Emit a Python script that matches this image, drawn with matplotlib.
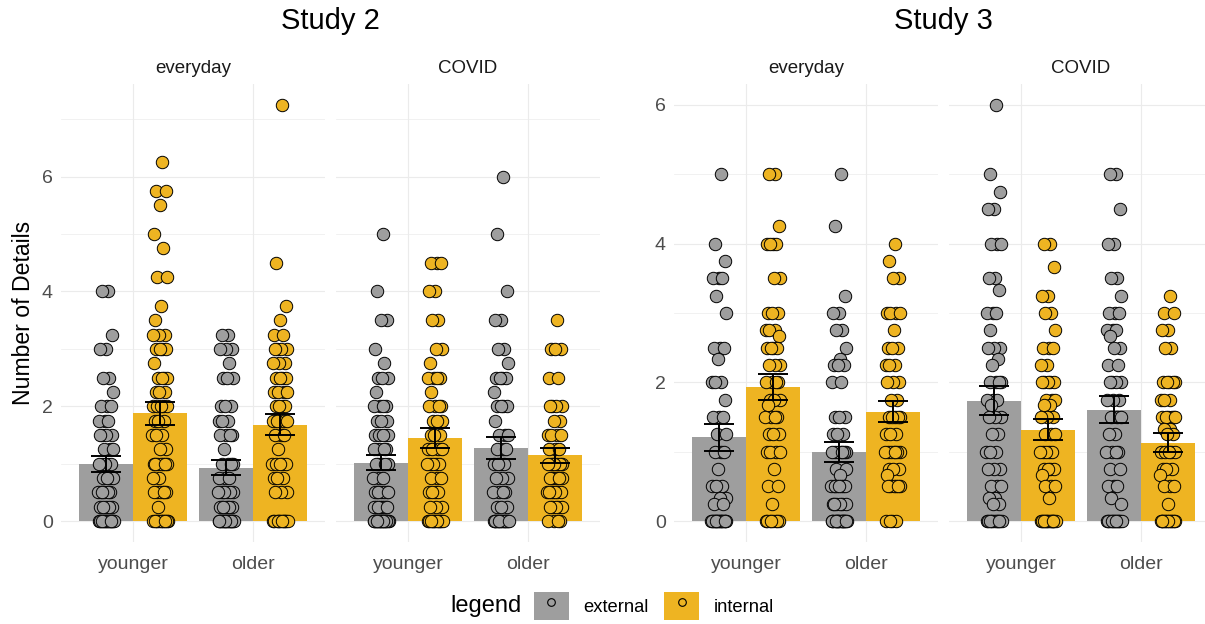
import numpy as np
import matplotlib
matplotlib.use('Agg')
import matplotlib.pyplot as plt
from matplotlib.patches import Patch
from matplotlib.lines import Line2D
from matplotlib.legend_handler import HandlerTuple

plt.rcParams['font.family'] = ['Liberation Sans', 'DejaVu Sans']


#Categories
ages = ['younger', 'older']
conditions = ['everyday', 'COVID']
sources = ['external', 'internal']

#Study 2: score -> number of participants
s2_everyday_younger_ext = {4: 2, 3.25: 1, 3: 2, 2.5: 2, 2.25: 1, 2: 3, 1.75: 3, 1.5: 4, 1.25: 3,
                           1: 5, 0.75: 4, 0.5: 6, 0.25: 5, 0: 17}
s2_everyday_younger_int = {6.25: 1, 5.75: 2, 5.5: 1, 5: 1, 4.75: 1, 4.25: 2, 3.75: 1, 3.5: 1, 3.25: 3,
                           3: 4, 2.75: 1, 2.5: 4, 2.25: 3, 2: 5, 1.75: 3, 1.5: 3, 1.25: 2, 1: 7,
                           0.75: 2, 0.5: 6, 0.25: 1, 0: 12}
s2_everyday_older_ext = {3.25: 2, 3: 3, 2.75: 1, 2.5: 3, 2: 3, 1.75: 3, 1.5: 4, 1.25: 1, 1: 4,
                         0.75: 3, 0.5: 7, 0.25: 7, 0: 19}
s2_everyday_older_int = {7.25: 1, 4.5: 1, 3.75: 1, 3.5: 1, 3.25: 2, 3: 4, 2.75: 3, 2.5: 4, 2.25: 4,
                         2: 4, 1.75: 4, 1.5: 3, 1.25: 1, 1: 5, 0.75: 3, 0.5: 3, 0: 12}
s2_covid_younger_ext = {5: 1, 4: 1, 3.5: 2, 3: 1, 2.75: 1, 2.5: 3, 2.25: 1, 2: 4, 1.75: 3, 1.5: 5,
                        1.25: 5, 1: 5, 0.75: 3, 0.5: 7, 0.25: 8, 0: 20}
s2_covid_younger_int = {4.5: 3, 4: 2, 3.5: 2, 3: 2, 2.75: 1, 2.5: 4, 2.25: 1, 2: 4, 1.75: 3, 1.5: 3,
                        1.25: 4, 1: 5, 0.75: 3, 0.5: 4, 0.25: 3, 0: 13}
s2_covid_older_ext = {6: 1, 5: 1, 4: 1, 3.5: 2, 3: 2, 2.75: 1, 2.5: 4, 2.25: 1, 2: 4, 1.75: 1,
                      1.5: 3, 1.25: 3, 1: 4, 0.75: 3, 0.5: 4, 0.25: 3, 0: 17}
s2_covid_older_int = {3.5: 1, 3: 3, 2.5: 2, 2: 4, 1.75: 2, 1.5: 4, 1.25: 3, 1: 7, 0.75: 6, 0.5: 7,
                      0.25: 5, 0: 4}

#Study 3
s3_everyday_younger_ext = {5: 1, 4: 1, 3.75: 1, 3.5: 3, 3.25: 1, 3: 1, 2.5: 3, 2.33: 1, 2: 3, 1.75: 1,
                           1.5: 3, 1.25: 2, 1: 3, 0.75: 1, 0.5: 3, 0.33: 2, 0.25: 2, 0: 18}
s3_everyday_younger_int = {5: 2, 4.25: 1, 4: 4, 3.5: 2, 3: 3, 2.75: 3, 2.67: 1, 2.5: 4, 2.25: 3, 2: 4,
                           1.75: 3, 1.67: 1, 1.5: 4, 1.25: 3, 1: 4, 0.75: 1, 0.5: 2, 0.25: 1, 0: 8}
s3_everyday_older_ext = {5: 1, 4.25: 1, 3.25: 1, 3: 2, 2.75: 2, 2.5: 1, 2.33: 1, 2.25: 3, 2: 2, 1.5: 3,
                         1.25: 3, 1: 7, 0.75: 2, 0.67: 1, 0.5: 8, 0.25: 6, 0: 19}
s3_everyday_older_int = {4: 1, 3.75: 1, 3.5: 2, 3: 4, 2.75: 1, 2.5: 3, 2.25: 3, 2: 3, 1.75: 2, 1.5: 5,
                         1.25: 3, 1: 7, 0.75: 3, 0.67: 1, 0.5: 6, 0: 4}
s3_covid_younger_ext = {6: 1, 5: 1, 4.75: 1, 4.5: 2, 4: 3, 3.5: 2, 3.33: 1, 3: 3, 2.75: 1, 2.5: 3,
                        2.33: 1, 2.25: 1, 2: 4, 1.75: 3, 1.67: 1, 1.5: 3, 1.25: 2, 1: 3, 0.75: 3,
                        0.5: 3, 0.33: 2, 0.25: 2, 0: 12}
s3_covid_younger_int = {4: 2, 3.67: 1, 3.25: 2, 3: 2, 2.75: 1, 2.5: 3, 2.25: 2, 2: 5, 1.75: 3, 1.67: 2,
                        1.5: 3, 1.25: 3, 1: 5, 0.75: 4, 0.67: 1, 0.5: 3, 0.33: 1, 0: 15}
s3_covid_older_ext = {5: 2, 4.5: 1, 4: 2, 3.5: 2, 3.25: 1, 3: 3, 2.75: 3, 2.67: 1, 2.5: 2, 2.25: 2,
                      2: 4, 1.75: 3, 1.5: 3, 1.25: 2, 1: 4, 0.75: 2, 0.5: 3, 0.33: 1, 0.25: 1, 0: 14}
s3_covid_older_int = {3.25: 1, 3: 2, 2.75: 2, 2.5: 2, 2: 5, 1.75: 3, 1.5: 6, 1.33: 2, 1.25: 2, 1: 5,
                      0.75: 3, 0.67: 1, 0.5: 3, 0.25: 1, 0: 14}


study2 = {'everyday': [[s2_everyday_younger_ext, s2_everyday_younger_int],
                       [s2_everyday_older_ext, s2_everyday_older_int]],
          'COVID': [[s2_covid_younger_ext, s2_covid_younger_int],
                    [s2_covid_older_ext, s2_covid_older_int]]}
study3 = {'everyday': [[s3_everyday_younger_ext, s3_everyday_younger_int],
                       [s3_everyday_older_ext, s3_everyday_older_int]],
          'COVID': [[s3_covid_younger_ext, s3_covid_younger_int],
                    [s3_covid_older_ext, s3_covid_older_int]]}


#Plotting set up
W, H = 1205, 624
fig = plt.figure(figsize=(W/100, H/100), dpi=100)

colors = ['#9E9E9E', '#EEB422']
gridc = '#EBEBEB'


def box(x0, x1, y0=84, y1=542):
    return [x0/W, 1 - y1/H, (x1 - x0)/W, (y1 - y0)/H]


def panel(ax, groups, ymax, first):
    for a, pair in enumerate(groups):
        for s, d in enumerate(pair):
            vals = np.repeat(list(d.keys()), list(d.values())).astype(float)
            xc = a + (s - 0.5)*0.45
            m = vals.mean()
            se = vals.std(ddof=1)/np.sqrt(len(vals))
            ax.bar(xc, m, width=0.45, color=colors[s], zorder=2)
            jit = (((np.arange(len(vals)) + 1)*0.618034) % 1 - 0.5)*0.13
            ax.scatter(xc + jit, vals, s=80, c=colors[s], edgecolors='black',
                       linewidths=0.7, zorder=3)
            ax.errorbar(xc, m, yerr=se, color='black', capsize=10.8,
                        elinewidth=1.4, capthick=1.4, zorder=4)

    ax.set_xlim(-0.6, 1.6)
    ax.set_ylim(-0.05*ymax, 1.05*ymax)
    ax.set_xticks([0, 1], ages)
    ax.set_yticks(np.arange(0, ymax + 0.01, 2))
    ax.set_yticks(np.arange(1, ymax + 0.01, 2), minor=True)
    ax.grid(which='major', color=gridc, lw=0.85)
    ax.grid(which='minor', axis='y', color=gridc, lw=0.5)
    ax.set_axisbelow(True)
    for sp in ax.spines.values():
        sp.set_visible(False)
    ax.tick_params(which='both', length=0, labelsize=14, labelcolor='#4D4D4D', pad=6)
    ax.tick_params(axis='x', pad=10)
    if not first:
        ax.tick_params(axis='y', labelleft=False)


def all_max(study):
    return max(max(d.keys()) for c in study.values() for pair in c for d in pair)


xs = {('2', 'everyday'): (61, 325), ('2', 'COVID'): (336, 600),
      ('3', 'everyday'): (674, 938), ('3', 'COVID'): (949, 1213)}

for name, study in [('2', study2), ('3', study3)]:
    ymax = all_max(study)
    for i, cond in enumerate(conditions):
        ax = fig.add_axes(box(*xs[(name, cond)]))
        panel(ax, study[cond], ymax, i == 0)
        ax.set_title(cond, fontsize=13.5, color='#1A1A1A', pad=8)
        if name == '2' and i == 0:
            ax.set_ylabel('Number of Details', fontsize=16.6, labelpad=5)

fig.text(330/W, 1 - 21/H, 'Study 2', ha='center', va='center', fontsize=21)
fig.text(943/W, 1 - 21/H, 'Study 3', ha='center', va='center', fontsize=21)


#Legend
handles = [(Patch(facecolor=c, edgecolor='none'),
            Line2D([], [], marker='o', ls='none', markersize=5.5, markerfacecolor=c,
                   markeredgecolor='black', markeredgewidth=0.8)) for c in colors]
fig.legend(handles, sources, loc='center left', bbox_to_anchor=(534/W, 1 - 606/H), ncol=2,
           frameon=False, fontsize=13.2, handlelength=1.9, handleheight=1.9,
           handletextpad=0.8, columnspacing=0.85, borderpad=0, borderaxespad=0,
           handler_map={tuple: HandlerTuple(ndivide=1)})
fig.text(522/W, 1 - 606/H, 'legend', ha='right', va='center', fontsize=17)

plt.savefig('out.png', dpi=100)
